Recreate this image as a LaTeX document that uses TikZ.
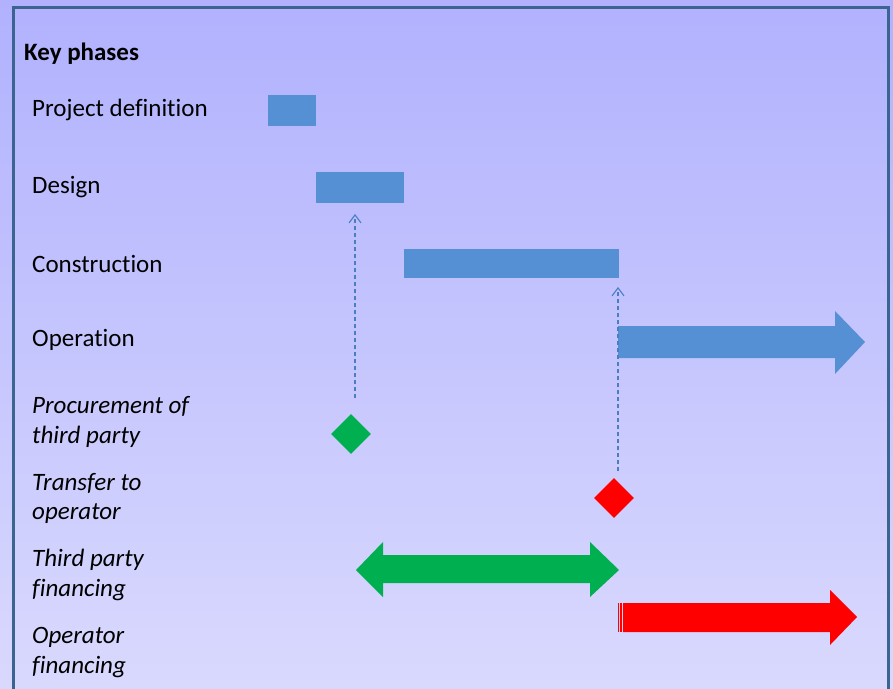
\documentclass[tikz,border=0pt]{standalone}
\usepackage{fontspec}
\setmainfont{Carlito}[Ligatures=NoCommon]
\usetikzlibrary{arrows.meta,shapes.geometric}
\definecolor{barblue}{HTML}{5690D4}
\definecolor{bggtop}{HTML}{B1B1FE}
\definecolor{bggbot}{HTML}{D9D9FE}
\definecolor{frame}{HTML}{3C6491}
\definecolor{dgreen}{HTML}{00B050}
\definecolor{dashblue}{HTML}{4A7EC0}
\tikzset{
  lbl/.style={anchor=west, inner sep=0pt, font=\fontsize{25}{30}\selectfont},
  ilbl/.style={lbl, font=\fontsize{25}{30}\selectfont\itshape},
  bar/.style={fill=barblue, draw=none},
  dia/.style={diamond, minimum width=40pt, minimum height=40pt, inner sep=0pt, draw=none},
  dep/.style={draw=dashblue, line width=1.2pt, dash pattern=on 4pt off 3pt, -{Straight Barb[length=8pt,width=12pt,line width=1.1pt]}}
}
\begin{document}
\begin{tikzpicture}[x=1pt,y=-1pt]
\useasboundingbox (0,0) rectangle (893,688);
\shade[top color=bggtop, bottom color=bggbot] (0,0) rectangle (893,688);
\draw[frame, line width=3pt] (13,700) -- (13,7) -- (888,7) -- (888,700);

\node[lbl, font=\fontsize{25}{30}\selectfont\bfseries] (title) at (24,54) {Key phases};
\node[lbl] (l1) at (32,110) {Project definition};
\node[lbl] (l2) at (32,187) {Design};
\node[lbl] (l3) at (32,264) {Construction};
\node[lbl] (l4) at (32,340) {Operation};
\node[ilbl] (l5a) at (32,406) {Procurement of};
\node[ilbl] (l5b) at (32,437) {third party};
\node[ilbl] (l6a) at (32,483) {Transfer to};
\node[ilbl] (l6b) at (32,514) {operator};
\node[ilbl] (l7a) at (32,560) {Third party};
\node[ilbl] (l7b) at (32,590) {financing};
\node[ilbl] (l8a) at (32,637) {Operator};
\node[ilbl] (l8b) at (32,667) {financing};

% bars
\path[bar] (268,95) rectangle (316,126);
\path[bar] (316,172) rectangle (404,203);
\path[bar] (404,249) rectangle (619,278);
% operation arrow
\path[bar] (618,326) -- (835,326) -- (835,311) -- (865,342) -- (835,374) -- (835,358) -- (618,358) -- cycle;

% diamonds
\node[dia, fill=dgreen] (gd) at (351,434) {};
\node[dia, fill=red] (rd) at (614,498) {};

% dependency arrows
\coordinate (s1) at (355,398);
\coordinate (e1) at (355,214);
\coordinate (s2) at (618,471);
\coordinate (e2) at (618,287);
\draw[dep] (s1) -- (e1);
\draw[dep] (s2) -- (e2);

% green double arrow
\fill[dgreen] (356,570) -- (383,542) -- (383,555) -- (590,555) -- (590,542) -- (619,570) -- (590,597) -- (590,583) -- (383,583) -- (383,597) -- cycle;

% red arrow
\fill[red] (623,603) -- (830,603) -- (830,590) -- (857,617) -- (830,645) -- (830,632) -- (623,632) -- cycle;
\fill[red] (618,603) rectangle (619.4,632);
\fill[red] (620.4,603) rectangle (622,632);
\end{tikzpicture}
\end{document}
